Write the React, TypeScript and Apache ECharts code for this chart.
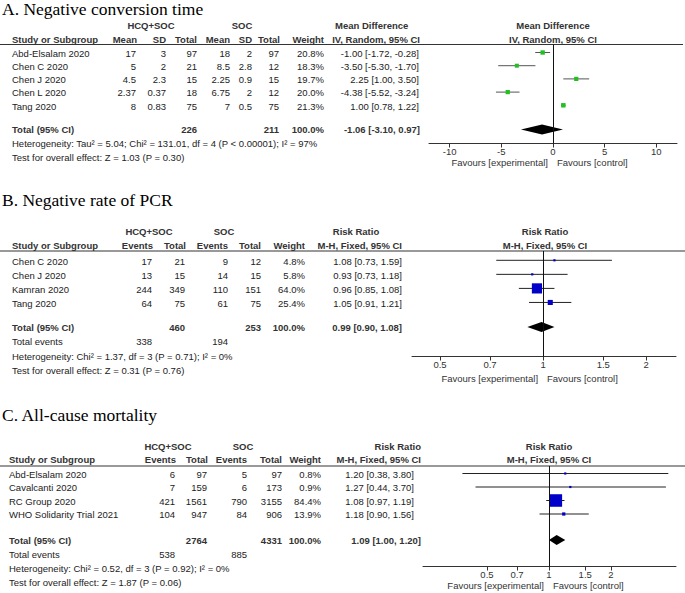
import React, { useEffect, useRef } from "react";
import * as echarts from "echarts";

// ---------- Panel A: Negative conversion time ----------
const aStudies = ["Abd-Elsalam 2020", "Chen C 2020", "Chen J 2020", "Chen L 2020", "Tang 2020"];
const aExpMean = [17, 5, 4.5, 2.37, 8];
const aExpSD = [3, 2, 2.3, 0.37, 0.83];
const aExpTotal = [97, 21, 15, 18, 75];
const aCtlMean = [18, 8.5, 2.25, 6.75, 7];
const aCtlSD = [2, 2.8, 0.9, 2, 0.5];
const aCtlTotal = [97, 12, 15, 12, 75];
const aWeight = [20.8, 18.3, 19.7, 20.0, 21.3];
const aEffect = [-1.0, -3.5, 2.25, -4.38, 1.0];
const aLower = [-1.72, -5.3, 1.0, -5.52, 0.78];
const aUpper = [-0.28, -1.7, 3.5, -3.24, 1.22];
const aTotals = [226, 211];
const aPooled = [-1.06, -3.1, 0.97];
const aTicks = [-10, -5, 0, 5, 10];
const aNotes = [
  "Heterogeneity: Tau² = 5.04; Chi² = 131.01, df = 4 (P < 0.00001); I² = 97%",
  "Test for overall effect: Z = 1.03 (P = 0.30)",
];

// ---------- Panel B: Negative rate of PCR ----------
const bStudies = ["Chen C 2020", "Chen J 2020", "Kamran 2020", "Tang 2020"];
const bExpEvents = [17, 13, 244, 64];
const bExpTotal = [21, 15, 349, 75];
const bCtlEvents = [9, 14, 110, 61];
const bCtlTotal = [12, 15, 151, 75];
const bWeight = [4.8, 5.8, 64.0, 25.4];
const bEffect = [1.08, 0.93, 0.96, 1.05];
const bLower = [0.73, 0.73, 0.85, 0.91];
const bUpper = [1.59, 1.18, 1.08, 1.21];
const bTotals = [460, 253];
const bTotalEvents = [338, 194];
const bPooled = [0.99, 0.9, 1.08];
const bTicks = [0.5, 0.7, 1, 1.5, 2];
const bNotes = [
  "Heterogeneity: Chi² = 1.37, df = 3 (P = 0.71); I² = 0%",
  "Test for overall effect: Z = 0.31 (P = 0.76)",
];

// ---------- Panel C: All-cause mortality ----------
const cStudies = ["Abd-Elsalam 2020", "Cavalcanti 2020", "RC Group 2020", "WHO Solidarity Trial 2021"];
const cExpEvents = [6, 7, 421, 104];
const cExpTotal = [97, 159, 1561, 947];
const cCtlEvents = [5, 6, 790, 84];
const cCtlTotal = [97, 173, 3155, 906];
const cWeight = [0.8, 0.9, 84.4, 13.9];
const cEffect = [1.2, 1.27, 1.08, 1.18];
const cLower = [0.38, 0.44, 0.97, 0.9];
const cUpper = [3.8, 3.7, 1.19, 1.56];
const cTotals = [2764, 4331];
const cTotalEvents = [538, 885];
const cPooled = [1.09, 1.0, 1.2];
const cTicks = [0.5, 0.7, 1, 1.5, 2];
const cNotes = [
  "Heterogeneity: Chi² = 0.52, df = 3 (P = 0.92); I² = 0%",
  "Test for overall effect: Z = 1.87 (P = 0.06)",
];

const FONT = "'Liberation Sans', Arial, Helvetica, sans-serif";
const SERIF = "'Liberation Serif', 'Times New Roman', serif";
const TXT = "#222";
const HDR = "#333";
const FS = 9.5;

const f2 = (v: number) => v.toFixed(2);
const ci = (e: number, l: number, u: number) => `${f2(e)} [${f2(l)}, ${f2(u)}]`;
const pct = (w: number) => `${w.toFixed(1)}%`;

const panelA = {
  title: "A. Negative conversion time",
  log: false,
  groupHeaders: [
    ["HCQ+SOC", 151, "center"],
    ["SOC", 242, "center"],
    ["Mean Difference", 335, "left"],
  ],
  colHeaders: ["Mean", "SD", "Total", "Mean", "SD", "Total", "Weight", "IV, Random, 95% CI"],
  headerCols: [137, 166, 197, 230, 252, 280, 324, 420],
  valueCols: [136, 166, 197, 230, 252, 279, 324, 419],
  studies: aStudies,
  cells: aStudies.map((_, i) => [
    String(aExpMean[i]), String(aExpSD[i]), String(aExpTotal[i]),
    String(aCtlMean[i]), String(aCtlSD[i]), String(aCtlTotal[i]),
    pct(aWeight[i]), ci(aEffect[i], aLower[i], aUpper[i]),
  ]),
  totalCells: ["", "", String(aTotals[0]), "", "", String(aTotals[1]), "100.0%", ci(aPooled[0], aPooled[1], aPooled[2])],
  totalEvents: null as null | string[],
  notes: aNotes,
  effect: aEffect, lower: aLower, upper: aUpper, weight: aWeight, pooled: aPooled,
  ticks: aTicks, ref: 0,
  plotH: ["Mean Difference", "IV, Random, 95% CI"],
  sqColor: "#22c022", ciColor: "#555",
};

const panelB = {
  title: "B. Negative rate of PCR",
  log: true,
  groupHeaders: [
    ["HCQ+SOC", 149, "center"],
    ["SOC", 224, "center"],
    ["Risk Ratio", 356, "center"],
  ],
  colHeaders: ["Events", "Total", "Events", "Total", "Weight", "M-H, Fixed, 95% CI"],
  headerCols: [153, 186, 228, 261, 305, 402],
  valueCols: [152, 185, 228, 261, 305, 402],
  studies: bStudies,
  cells: bStudies.map((_, i) => [
    String(bExpEvents[i]), String(bExpTotal[i]), String(bCtlEvents[i]), String(bCtlTotal[i]),
    pct(bWeight[i]), ci(bEffect[i], bLower[i], bUpper[i]),
  ]),
  totalCells: ["", String(bTotals[0]), "", String(bTotals[1]), "100.0%", ci(bPooled[0], bPooled[1], bPooled[2])],
  totalEvents: [String(bTotalEvents[0]), "", String(bTotalEvents[1]), "", "", ""],
  notes: bNotes,
  effect: bEffect, lower: bLower, upper: bUpper, weight: bWeight, pooled: bPooled,
  ticks: bTicks, ref: 1,
  plotH: ["Risk Ratio", "M-H, Fixed, 95% CI"],
  sqColor: "#0000c8", ciColor: "#222",
};

const panelC = {
  title: "C. All-cause mortality",
  log: true,
  groupHeaders: [
    ["HCQ+SOC", 168, "center"],
    ["SOC", 243, "center"],
    ["Risk Ratio", 421, "right"],
  ],
  colHeaders: ["Events", "Total", "Events", "Total", "Weight", "M-H, Fixed, 95% CI"],
  headerCols: [176, 208, 247, 282, 321, 421],
  valueCols: [175, 207, 247, 282, 321, 414],
  studies: cStudies,
  cells: cStudies.map((_, i) => [
    String(cExpEvents[i]), String(cExpTotal[i]), String(cCtlEvents[i]), String(cCtlTotal[i]),
    pct(cWeight[i]), ci(cEffect[i], cLower[i], cUpper[i]),
  ]),
  totalCells: ["", String(cTotals[0]), "", String(cTotals[1]), "100.0%", ci(cPooled[0], cPooled[1], cPooled[2])],
  totalEvents: [String(cTotalEvents[0]), "", String(cTotalEvents[1]), "", "", ""],
  notes: cNotes,
  effect: cEffect, lower: cLower, upper: cUpper, weight: cWeight, pooled: cPooled,
  ticks: cTicks, ref: 1,
  plotH: ["Risk Ratio", "M-H, Fixed, 95% CI"],
  sqColor: "#0000c8", ciColor: "#222",
};

// layout (pixels)
const layA = {
  titleY: 8.5, h1Y: 25.5, h2Y: 39, lineY: 44.5, lineX2: 683, studyX: 12,
  row0: 52.5, rowH: 13.2, totalY: 129.5, totalEventsY: 0, noteYs: [143.5, 157],
  axisY: 143.5, axisLeft: 429, axisRight: 677, xMin: -12, xMax: 12, favY: 162.5, plotCX: 553,
};
const layB = {
  titleY: 200, h1Y: 231, h2Y: 245, lineY: 251, lineX2: 685, studyX: 12,
  row0: 260.3, rowH: 14.05, totalY: 327, totalEventsY: 341.5, noteYs: [356, 370.5],
  axisY: 356.5, axisLeft: 412, axisRight: 676, xMin: 0.4141, xMax: 2.447, favY: 378, plotCX: 545,
};
const layC = {
  titleY: 415, h1Y: 446, h2Y: 459.3, lineY: 466, lineX2: 685, studyX: 9,
  row0: 473.5, rowH: 13.5, totalY: 540, totalEventsY: 554, noteYs: [568, 582],
  axisY: 566.5, axisLeft: 423, axisRight: 676, xMin: 0.2445, xMax: 4.14, favY: 585, plotCX: 549,
};

function T(x: number, y: number, text: string, opt: any = {}) {
  const align = opt.align || "left";
  return {
    type: "text",
    x,
    y,
    silent: true,
    style: {
      text,
      fill: opt.fill || TXT,
      fontSize: opt.size || FS,
      fontFamily: opt.family || FONT,
      fontWeight: opt.bold ? "bold" : "normal",
      align,
      textAlign: align,
      verticalAlign: "middle",
      textVerticalAlign: "middle",
    },
  };
}

const sqSize = (w: number) => Math.max(2.2, 0.45 * Math.pow(w, 0.75));

function buildOption() {
  const grid: any[] = [];
  const xAxis: any[] = [];
  const yAxis: any[] = [];
  const series: any[] = [];
  const graphic: any[] = [];

  const panels = [
    { d: panelA, L: layA },
    { d: panelB, L: layB },
    { d: panelC, L: layC },
  ];

  panels.forEach(({ d, L }, k) => {
    const tr = d.log ? (v: number) => Math.log(v) : (v: number) => v;
    const yMin = (L.lineY - L.row0) / L.rowH;
    const yMax = (L.axisY - L.row0) / L.rowH;
    const totalIdx = (L.totalY - L.row0) / L.rowH;
    const xMin = tr(L.xMin);
    const xMax = tr(L.xMax);
    const refPx = L.axisLeft + ((tr(d.ref) - xMin) / (xMax - xMin)) * (L.axisRight - L.axisLeft);

    grid.push({
      left: L.axisLeft,
      top: L.lineY,
      width: L.axisRight - L.axisLeft,
      height: L.axisY - L.lineY,
      containLabel: false,
      show: false,
    });
    const tickVals = d.ticks.map((t: number) => tr(t));
    xAxis.push({
      gridIndex: k,
      type: "value",
      min: xMin,
      max: xMax,
      axisLine: { show: true, onZero: false, lineStyle: { color: "#333", width: 1 } },
      axisTick: { show: true, customValues: tickVals, length: 4, lineStyle: { color: "#333" } },
      axisLabel: {
        show: true,
        customValues: tickVals,
        fontSize: FS,
        fontFamily: FONT,
        color: "#333",
        margin: 3,
        formatter: (v: number) => {
          const raw = d.log ? Math.exp(v) : v;
          return String(Math.round(raw * 100) / 100);
        },
      },
      splitLine: { show: false },
    });
    yAxis.push({ gridIndex: k, type: "value", min: yMin, max: yMax, inverse: true, show: false });

    series.push({
      type: "custom",
      xAxisIndex: k,
      yAxisIndex: k,
      silent: true,
      clip: false,
      data: d.effect.map((e: number, i: number) => [tr(e), tr(d.lower[i]), tr(d.upper[i]), i, sqSize(d.weight[i])]),
      renderItem: (_p: any, api: any) => {
        const y = api.value(3);
        const pm = api.coord([api.value(0), y]);
        const pl = api.coord([api.value(1), y]);
        const ph = api.coord([api.value(2), y]);
        const s = api.value(4);
        return {
          type: "group",
          children: [
            { type: "line", shape: { x1: pl[0], y1: pm[1], x2: ph[0], y2: pm[1] }, style: { stroke: d.ciColor, lineWidth: 1 } },
            { type: "rect", shape: { x: pm[0] - s / 2, y: pm[1] - s / 2, width: s, height: s }, style: { fill: d.sqColor } },
          ],
        };
      },
      markLine: {
        silent: true,
        symbol: ["none", "none"],
        label: { show: false },
        lineStyle: { color: "#111", width: 1, type: "solid" },
        data: [{ xAxis: tr(d.ref) }],
      },
    });
    series.push({
      type: "custom",
      xAxisIndex: k,
      yAxisIndex: k,
      silent: true,
      clip: false,
      data: [[tr(d.pooled[0]), tr(d.pooled[1]), tr(d.pooled[2]), totalIdx]],
      renderItem: (_p: any, api: any) => {
        const y = api.value(3);
        const pm = api.coord([api.value(0), y]);
        const pl = api.coord([api.value(1), y]);
        const ph = api.coord([api.value(2), y]);
        const h = 5;
        return {
          type: "polygon",
          shape: { points: [[pl[0], pm[1]], [pm[0], pm[1] - h], [ph[0], pm[1]], [pm[0], pm[1] + h]] },
          style: { fill: "#000" },
        };
      },
    });

    // ---- table texts ----
    graphic.push(T(2, L.titleY, d.title, { size: 17.5, family: SERIF, fill: "#000" }));
    d.groupHeaders.forEach((g: any) => graphic.push(T(g[1], L.h1Y, g[0], { bold: true, fill: HDR, align: g[2] })));
    graphic.push(T(L.studyX, L.h2Y, "Study or Subgroup", { bold: true, fill: HDR }));
    d.colHeaders.forEach((h: string, j: number) => graphic.push(T(d.headerCols[j], L.h2Y, h, { bold: true, fill: HDR, align: "right" })));
    graphic.push({
      type: "line",
      silent: true,
      shape: { x1: 0, y1: L.lineY, x2: L.lineX2, y2: L.lineY },
      style: { stroke: "#333", lineWidth: 1 },
    });
    d.studies.forEach((s: string, i: number) => {
      const y = L.row0 + i * L.rowH + 0.8;
      graphic.push(T(L.studyX, y, s));
      d.cells[i].forEach((c: string, j: number) => graphic.push(T(d.valueCols[j], y, c, { align: "right" })));
    });
    graphic.push(T(L.studyX, L.totalY, "Total (95% CI)", { bold: true, fill: HDR }));
    d.totalCells.forEach((c: string, j: number) => {
      if (c) graphic.push(T(j === d.totalCells.length - 1 ? d.headerCols[j] : d.valueCols[j], L.totalY, c, { bold: true, fill: HDR, align: "right" }));
    });
    if (d.totalEvents) {
      graphic.push(T(L.studyX, L.totalEventsY, "Total events"));
      d.totalEvents.forEach((c: string, j: number) => {
        if (c) graphic.push(T(d.valueCols[j], L.totalEventsY, c, { align: "right" }));
      });
    }
    d.notes.forEach((n: string, j: number) => graphic.push(T(L.studyX, L.noteYs[j], n)));

    // ---- plot headers & favours ----
    graphic.push(T(L.plotCX, L.h1Y, d.plotH[0], { bold: true, fill: HDR, align: "center" }));
    graphic.push(T(L.plotCX, L.h2Y, d.plotH[1], { bold: true, fill: HDR, align: "center" }));
    graphic.push(T(refPx - 5, L.favY, "Favours [experimental]", { align: "right", fill: "#333" }));
    graphic.push(T(refPx + 4, L.favY, "Favours [control]", { align: "left", fill: "#333" }));
  });

  return {
    animation: false,
    backgroundColor: "#fff",
    grid,
    xAxis,
    yAxis,
    series,
    graphic: { elements: graphic },
  };
}

export default function App() {
  const ref = useRef<HTMLDivElement>(null);
  useEffect(() => {
    const el = ref.current;
    if (!el) return;
    const chart = echarts.init(el, null, { renderer: "svg" });
    chart.setOption(buildOption() as any);
    return () => chart.dispose();
  }, []);
  return (
    <div
      ref={ref}
      style={{ position: "absolute", left: 0, top: 0, width: 685, height: 593, background: "#fff" }}
    />
  );
}
